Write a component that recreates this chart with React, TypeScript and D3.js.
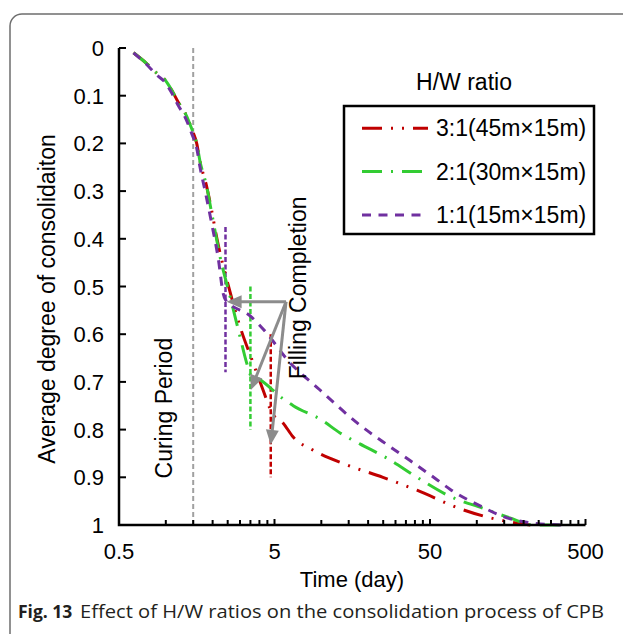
import React from 'react';
import * as d3 from 'd3';

// ---- data ----
const timeRed = [0.62, 0.75, 0.87, 0.99, 1.09, 1.2, 1.33, 1.47, 1.58, 1.66, 1.83, 1.97, 2.12, 2.51, 3.0, 3.64, 4.22, 4.82, 5.67, 6.57, 8.85, 14.6, 24.9, 41.2, 81.5, 122, 220];
const degRed = [0.01, 0.032, 0.052, 0.067, 0.088, 0.113, 0.136, 0.17, 0.2, 0.238, 0.29, 0.34, 0.396, 0.495, 0.584, 0.66, 0.717, 0.765, 0.786, 0.815, 0.843, 0.874, 0.9, 0.927, 0.968, 0.985, 1.0];

const timeGreen = [0.62, 0.75, 0.87, 0.99, 1.09, 1.2, 1.33, 1.47, 1.58, 1.66, 1.83, 1.97, 2.23, 2.59, 3.0, 3.31, 3.55, 3.9, 5.6, 6.6, 10.06, 13.2, 17.7, 26.5, 41.2, 67.2, 109.7, 163, 230, 358];
const degGreen = [0.01, 0.032, 0.052, 0.067, 0.088, 0.113, 0.136, 0.17, 0.2, 0.238, 0.29, 0.345, 0.437, 0.521, 0.605, 0.66, 0.688, 0.693, 0.734, 0.75, 0.78, 0.807, 0.83, 0.86, 0.9, 0.94, 0.965, 0.985, 1.0, 1.0];

const timePurple = [0.62, 0.75, 0.87, 0.99, 1.09, 1.2, 1.33, 1.47, 1.58, 1.66, 1.79, 1.97, 2.18, 2.34, 2.42, 3.5, 4.46, 5.99, 9.81, 17, 27.7, 37.2, 55.4, 67.2, 109.7, 147, 230, 358];
const degPurple = [0.01, 0.034, 0.056, 0.072, 0.094, 0.12, 0.145, 0.18, 0.21, 0.25, 0.3, 0.367, 0.444, 0.515, 0.528, 0.562, 0.598, 0.652, 0.717, 0.786, 0.836, 0.865, 0.905, 0.925, 0.963, 0.982, 0.996, 1.0];

const seriesNames = ['3:1(45m×15m)', '2:1(30m×15m)', '1:1(15m×15m)'];
const fillDays = [4.73, 3.5, 2.42];
const fillLow = [0.6, 0.5, 0.375];
const fillHigh = [0.9, 0.8, 0.68];
const curingDay = 1.5;
const arrowFrom = [5.93, 0.532];
const arrowToTime = [2.46, 3.52, 4.73];
const arrowToDeg = [0.532, 0.717, 0.832];

const xMajorTicks = [0.5, 5, 50, 500];
const xTickLabels = ['0.5', '5', '50', '500'];
const yTicks = [0, 0.1, 0.2, 0.3, 0.4, 0.5, 0.6, 0.7, 0.8, 0.9, 1];
const yTickLabels = ['0', '0.1', '0.2', '0.3', '0.4', '0.5', '0.6', '0.7', '0.8', '0.9', '1'];

// ---- styles ----
const colors = ['#c00000', '#33cc33', '#7030a0'];
const dashes = ['20 9 2 9 2 9', '20 9 2 9', '9 7.5'];
const vDash = '5 2.5';
const FONT = '"Liberation Sans", Arial, sans-serif';

export default function App() {
  const W = 623, H = 634;
  const x = d3.scaleLog().domain([0.5, 500]).range([119, 585.5]);
  const y = d3.scaleLinear().domain([0, 1]).range([48, 525]);
  const line = d3.line<[number, number]>().x(d => x(d[0])).y(d => y(d[1])).curve(d3.curveMonotoneX);

  const series = [
    timeRed.map((t, i) => [t, degRed[i]] as [number, number]),
    timeGreen.map((t, i) => [t, degGreen[i]] as [number, number]),
    timePurple.map((t, i) => [t, degPurple[i]] as [number, number]),
  ];

  const minorTicks: number[] = [];
  [0.5, 5, 50].forEach(b => { for (let k = 2; k <= 9; k++) minorTicks.push(b * k); });

  const ax0 = x(0.5), ay1 = y(1);
  const arrowColor = '#8c8c8c';

  const arrows = arrowToTime.map((t, i) => {
    const x1 = x(arrowFrom[0]), y1 = y(arrowFrom[1]);
    const x2 = x(t), y2 = y(arrowToDeg[i]);
    const ang = Math.atan2(y2 - y1, x2 - x1);
    const L = 15, Wd = 6.5;
    const bx = x2 - L * Math.cos(ang), by = y2 - L * Math.sin(ang);
    const px = -Math.sin(ang) * Wd, py = Math.cos(ang) * Wd;
    return (
      <g key={i}>
        <line x1={x1} y1={y1} x2={bx + 2 * Math.cos(ang)} y2={by + 2 * Math.sin(ang)} stroke={arrowColor} strokeWidth={3} />
        <polygon points={`${x2},${y2} ${bx + px},${by + py} ${bx - px},${by - py}`} fill={arrowColor} />
      </g>
    );
  });

  return (
    <svg width={W} height={H} style={{ position: 'absolute', left: 0, top: 0, display: 'block', background: '#fff' }}>
      <rect x={0} y={0} width={W} height={H} fill="#fff" />
      {/* outer frame */}
      <path d={`M10,${H + 2} V26 A12,12 0 0 1 22,14 H${W + 2}`} fill="none" stroke="#6e6e6e" strokeWidth={1.5} />

      {/* curing period line */}
      <line x1={x(curingDay)} x2={x(curingDay)} y1={y(0)} y2={y(1)} stroke="#a0a0a0" strokeWidth={2} strokeDasharray="5 3" />

      {/* filling completion vertical lines */}
      {fillDays.map((t, i) => (
        <line key={i} x1={x(t)} x2={x(t)} y1={y(fillLow[i])} y2={y(fillHigh[i])} stroke={colors[i]} strokeWidth={2.5} strokeDasharray={vDash} />
      ))}

      {/* curves */}
      {series.map((s, i) => (
        <path key={i} d={line(s) || ''} fill="none" stroke={colors[i]} strokeWidth={3} strokeDasharray={dashes[i]} />
      ))}

      {/* arrows */}
      {arrows}

      {/* axes */}
      <path d={`M${ax0},${y(0)} V${ay1} H${x(500)}`} fill="none" stroke="#000" strokeWidth={2.5} />
      {yTicks.map((v, i) => (
        <g key={i}>
          <line x1={ax0} x2={ax0 + 7} y1={y(v)} y2={y(v)} stroke="#000" strokeWidth={2} />
          <text x={104} y={y(v) + 8} textAnchor="end" fontFamily={FONT} fontSize={22} fill="#000">{yTickLabels[i]}</text>
        </g>
      ))}
      {xMajorTicks.map((v, i) => (
        <g key={i}>
          <line x1={x(v)} x2={x(v)} y1={ay1} y2={ay1 - 6} stroke="#000" strokeWidth={2} />
          <text x={x(v)} y={559} textAnchor="middle" fontFamily={FONT} fontSize={22} fill="#000">{xTickLabels[i]}</text>
        </g>
      ))}
      {minorTicks.map((v, i) => (
        <line key={i} x1={x(v)} x2={x(v)} y1={ay1} y2={ay1 - 5} stroke="#000" strokeWidth={2} />
      ))}

      {/* axis titles */}
      <text x={352} y={587} textAnchor="middle" fontFamily={FONT} fontSize={22} fill="#000">Time (day)</text>
      <text transform={`translate(55,299) rotate(-90)`} textAnchor="middle" fontFamily={FONT} fontSize={23} fill="#000">Average degree of consolidaiton</text>

      {/* annotations */}
      <text transform={`translate(${x(1.097)},${y(0.755)}) rotate(-90)`} textAnchor="middle" fontFamily={FONT} fontSize={23} fill="#000">Curing Period</text>
      <text transform={`translate(${x(7.97)},${y(0.503)}) rotate(-90)`} textAnchor="middle" fontFamily={FONT} fontSize={23} fill="#000">Filling Completion</text>

      {/* legend */}
      <text x={464} y={90} textAnchor="middle" fontFamily={FONT} fontSize={23} fill="#000">H/W ratio</text>
      <rect x={344} y={106} width={250} height={128} fill="#fff" stroke="#000" strokeWidth={2.5} />
      {seriesNames.map((n, i) => {
        const ly = 128.3 + i * 43.3;
        const ends = [428, 422, 427];
        return (
          <g key={i}>
            <line x1={362} x2={ends[i]} y1={ly} y2={ly} stroke={colors[i]} strokeWidth={3} strokeDasharray={dashes[i]} />
            <text x={436} y={ly + 8} fontFamily={FONT} fontSize={23} fill="#000">{n}</text>
          </g>
        );
      })}

      {/* caption */}
      <text x={18} y={618} fontFamily='"Open Sans", sans-serif' fontSize={17.5} fill="#231f20">
        <tspan fontWeight="bold">Fig. 13</tspan>
      </text>
      <text x={80} y={618} fontFamily='"Open Sans", sans-serif' fontSize={18.5} fill="#231f20" textLength={524} lengthAdjust="spacingAndGlyphs">
        Effect of H/W ratios on the consolidation process of CPB
      </text>
    </svg>
  );
}
